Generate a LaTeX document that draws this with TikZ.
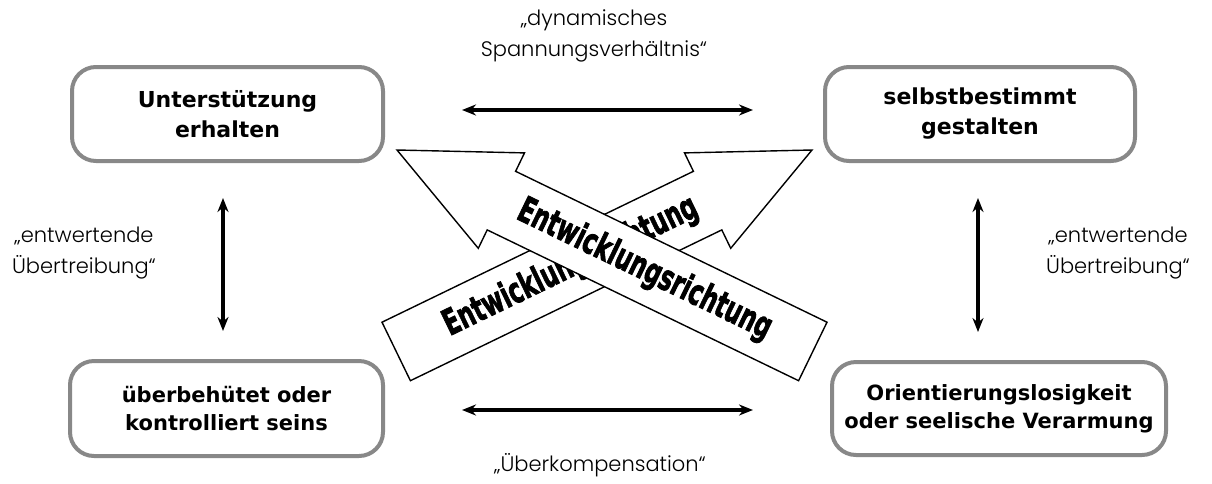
\documentclass[tikz,border=0pt]{standalone}
\usepackage{fontspec}
\usepackage{graphicx}
\setmainfont{DejaVu Sans}
\newfontfamily\boxfont{DejaVu Sans}
\newfontfamily\labfont{Poppins}[UprightFont=* Light]
\newfontfamily\heavyfont{DejaVu Sans}[BoldFeatures={FakeBold=2.5}]
\usetikzlibrary{arrows.meta}
\definecolor{boxgray}{HTML}{888888}

\begin{document}
\begin{tikzpicture}[x=1pt,y=-1pt,
  statebox/.style={draw=boxgray, line width=4pt, rounded corners=24pt, fill=white,
    align=center, inner sep=0pt},
  topfont/.style={font=\boxfont\bfseries\fontsize{22}{30}\selectfont},
  lowfont/.style={font=\boxfont\bfseries\fontsize{21}{28}\selectfont},
  relation/.style={line width=3.5pt,
    {Stealth[length=14pt,width=11pt]}-{Stealth[length=14pt,width=11pt]}},
  quotetext/.style={align=center, inner sep=0pt,
    font=\labfont\fontsize{21}{31}\selectfont},
  bigarrow/.style={draw=black, line width=1.4pt, fill=white, miter limit=10},
  arrowtext/.style={inner sep=0pt}
]
\useasboundingbox (0,0) rectangle (1212,483);

% the four states
\node[statebox, topfont, minimum width=311pt, minimum height=94pt] (support)
  at (227.5,114) {Unterstützung\\erhalten};
\node[statebox, topfont, minimum width=310pt, minimum height=94pt] (self)
  at (980,114) {selbstbestimmt\\gestalten};
\node[statebox, lowfont, minimum width=313pt, minimum height=95pt] (over)
  at (226.5,408.5) {überbehütet oder\\kontrolliert seins};
\node[statebox, lowfont, minimum width=334pt, minimum height=93pt] (lost)
  at (999,408.5) {Orientierungslosigkeit\\oder seelische Verarmung};

% end points of the relation arrows
\coordinate (topL) at (462,110);
\coordinate (topR) at (753,110);
\coordinate (botL) at (462,410);
\coordinate (botR) at (753,410);
\coordinate (leftT) at (223,198);
\coordinate (leftB) at (223,331);
\coordinate (rightT) at (978,198);
\coordinate (rightB) at (978,332);

\draw[relation] (topL) -- (topR);
\draw[relation] (botL) -- (botR);
\draw[relation] (leftT) -- (leftB);
\draw[relation] (rightT) -- (rightB);

% relation labels
\node[quotetext] (qtop) at (594,36) {„dynamisches\\Spannungsverhältnis“};
\node[quotetext] (qbot) at (600,465) {„Überkompensation“};
\node[quotetext] (qleft) at (84,253) {„entwertende\\Übertreibung“};
\node[quotetext] (qright) at (1118,253) {„entwertende\\Übertreibung“};

% development arrow pointing up to the right (lower layer)
\draw[bigarrow] (812,150) -- (684.5,152.9) -- (693.4,171.3) -- (382,322.2)
  -- (410.4,380.7) -- (721.8,229.9) -- (730.7,248.3) -- cycle;
\node[arrowtext, rotate=25.8] (devB) at (570.8,266.8)
  {\resizebox{278pt}{27pt}{\heavyfont\bfseries Entwicklungsrichtung}};

% development arrow pointing up to the left (upper layer)
\draw[bigarrow] (397,150) -- (524.5,152.9) -- (515.6,171.3) -- (827,322.2)
  -- (798.6,380.7) -- (487.2,229.9) -- (478.3,248.3) -- cycle;
\node[arrowtext, rotate=-25.8] (devA) at (644.5,270)
  {\resizebox{278pt}{27pt}{\heavyfont\bfseries Entwicklungsrichtung}};
\end{tikzpicture}
\end{document}
